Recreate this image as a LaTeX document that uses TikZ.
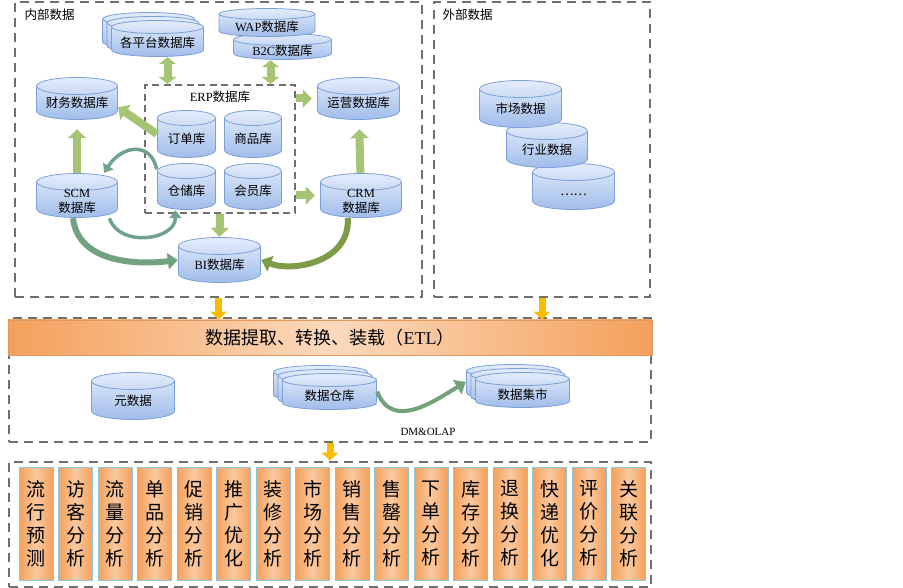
\documentclass[tikz,border=0pt]{standalone}
\usepackage{fontspec}
\setmainfont{Noto Sans CJK SC}
\newfontfamily\lat{Liberation Serif}
\usetikzlibrary{arrows.meta,calc}

\definecolor{dbtop}{HTML}{E4EDFB}
\definecolor{dbbot}{HTML}{A0BCEA}
\definecolor{dbline}{HTML}{7C9FD6}
\definecolor{grnarrow}{HTML}{A6C574}
\definecolor{tealarrow}{HTML}{6FA38E}
\definecolor{olivearrow}{HTML}{7E9B48}
\definecolor{boxgray}{HTML}{707070}
\definecolor{orgdark}{HTML}{F4A05B}
\definecolor{orglight}{HTML}{FAC9A0}
\definecolor{colline}{HTML}{8FC6DA}
\definecolor{yellowarrow}{HTML}{F8BC00}

% text inside a cylinder, set a little below the middle
\newcommand{\dbt}[1]{\smash{\raisebox{-9.4pt}{\begin{tabular}{@{}c@{}}#1\end{tabular}}}}

\begin{document}
\begin{tikzpicture}[x=1pt, y=-1pt,
    font=\fontsize{12.5}{15}\selectfont,
    % db={width}{height}{half height of the end ellipse}
    db/.style n args={3}{rectangle, inner sep=0pt, minimum width=#1, minimum height=#2,
      path picture={
        \path[draw=dbline, line width=0.8pt, top color=dbtop, bottom color=dbbot]
          ([xshift=0.5pt, yshift=-#3pt-0.5pt]path picture bounding box.north west)
          -- ([xshift=0.5pt, yshift=#3pt+0.5pt]path picture bounding box.south west)
          arc[start angle=180, end angle=360, x radius=#1pt/2-0.5pt, y radius=#3pt]
          -- ([xshift=-0.5pt, yshift=-#3pt-0.5pt]path picture bounding box.north east)
          arc[start angle=0, end angle=180, x radius=#1pt/2-0.5pt, y radius=#3pt]
          -- cycle;
        \draw[dbline, line width=0.8pt]
          ([xshift=0.5pt, yshift=-#3pt-0.5pt]path picture bounding box.north west)
          arc[start angle=180, end angle=360, x radius=#1pt/2-0.5pt, y radius=#3pt];
      }},
    outerbox/.style={draw=boxgray, line width=2.8pt, dash pattern=on 9pt off 6pt},
    erpbox/.style={draw=boxgray, line width=2pt, dash pattern=on 7pt off 4.5pt},
    garrow/.style={draw=grnarrow, line width=8pt, -{Triangle[length=9pt,width=18pt]}},
    dgarrow/.style={draw=grnarrow, line width=8pt, {Triangle[length=7pt,width=17pt]}-{Triangle[length=7pt,width=17pt]}},
    tarrow/.style={draw=tealarrow, line width=3.5pt, -{Triangle[length=8pt,width=12pt]}},
    bigarrow/.style={draw=#1, line width=6pt, -{Triangle[length=10pt,width=16pt]}},
    yarrow/.style={draw=yellowarrow, line width=7pt, -{Triangle[length=8pt,width=16pt]}},
    colbox/.style={rectangle, draw=colline, line width=1pt, left color=orgdark, right color=orgdark,
      middle color=orglight, minimum width=34, minimum height=113, inner sep=0pt, align=center,
      font=\fontsize{19}{23}\selectfont},
    etlbar/.style={rectangle, draw=orgdark!80!gray, line width=0.6pt, left color=orgdark, right color=orgdark,
      middle color=orglight!70!white, minimum width=644, minimum height=35, font=\fontsize{18}{20}\selectfont}
  ]
    \useasboundingbox (0,0) rectangle (903,588);

    % 内部数据 / 外部数据
    \node[outerbox, minimum width=407, minimum height=295] (inner) at (218.5,149.5) {};
    \node[anchor=west] (innerlabel) at (21,15) {内部数据};
    \node[outerbox, minimum width=216, minimum height=295] (outer) at (542,149.5) {};
    \node[anchor=west] (outerlabel) at (439,15) {外部数据};

    % ERP
    \node[erpbox, minimum width=150, minimum height=128] (erp) at (220,149) {};
    \node (erplabel) at (220,97) {{\lat ERP}数据库};
    \node[db={59}{48}{7.5}] (order) at (186.5,134) {\dbt{订单库}};
    \node[db={58}{48}{7.5}] (goods) at (253,134) {\dbt{商品库}};
    \node[db={59}{47}{7.5}] (store) at (186.5,186.5) {\dbt{仓储库}};
    \node[db={58}{47}{7.5}] (member) at (253,186.5) {\dbt{会员库}};

    % 其他数据库
    \node[db={93}{37}{6.5}] (plat3) at (148.5,30.5) {};
    \node[db={93}{37}{6.5}] (plat2) at (153,34.5) {};
    \node[db={93}{37}{6.5}] (plat) at (157.5,38.5) {\dbt{各平台数据库}};
    \node[db={99}{27}{6}] (b2c) at (282.5,46.5) {\dbt{{\lat B2C}数据库}};
    \node[db={97}{29}{5.5}] (wap) at (267,22.5) {\dbt{{\lat WAP}数据库}};
    \node[db={82}{43}{8.5}] (fin) at (77,98.5) {\dbt{财务数据库}};
    \node[db={83}{43}{8.5}] (yun) at (358.5,98.5) {\dbt{运营数据库}};
    \node[db={82}{45}{8.5}] (scm) at (77,195.5) {\dbt{{\lat SCM}\\数据库}};
    \node[db={82}{45}{8.5}] (crm) at (361,195.5) {\dbt{{\lat CRM}\\数据库}};
    \node[db={83}{46}{8.5}] (bi) at (219.5,260) {\dbt{{\lat BI}数据库}};

    % 外部
    \node[db={83}{47}{8.5}] (more) at (573.5,186.5) {\dbt{……}};
    \node[db={82}{46}{8.5}] (industry) at (547,145) {\dbt{行业数据}};
    \node[db={83}{48}{8.5}] (market) at (520.5,104) {\dbt{市场数据}};

    % 箭头
    \draw[dgarrow] ([xshift=10pt]plat.south) -- ([xshift=10pt]plat.south |- erp.north);
    \draw[dgarrow] ([xshift=-12pt]b2c.south) -- ([xshift=-12pt]b2c.south |- erp.north);
    \draw[garrow] (order.west) -- (fin.-12);
    \draw[garrow, shorten >=9pt] (scm) -- (fin);
    \draw[garrow, shorten >=9pt] (crm) -- (yun);
    \draw[garrow, shorten >=5pt] (erp.east |- yun.west) -- (yun.west);
    \draw[garrow, shorten >=5pt] (erp.east |- crm.west) -- (crm.west);
    \draw[garrow] (erp.south) -- (bi.north);
    \draw[tarrow] (store.150) .. controls +(-6,-28) and +(18,-28) .. (scm.40);
    \draw[tarrow] (scm.-35) .. controls +(10,30) and +(0,30) .. (store.-115);
    \draw[bigarrow=tealarrow!80!olivearrow] (scm.-100) .. controls +(5,45) and +(-40,5) .. (bi.west);
    \draw[bigarrow=olivearrow] (crm.-120) .. controls +(2,45) and +(30,12) .. (bi.east);

    % ETL
    \node[outerbox, minimum width=642, minimum height=124] (lower) at (330,380) {};
    \node[etlbar] (etl) at (330,337.5) {数据提取、转换、装载（{\lat ETL}）};
    \draw[yarrow] (inner.south) -- (inner.south |- etl.north);
    \draw[yarrow] (outer.south) -- (outer.south |- etl.north);

    \node[db={84}{48}{8.5}] (meta) at (133,396) {\dbt{元数据}};
    \node[db={95}{37}{6.5}] (dw3) at (320.5,383.5) {};
    \node[db={95}{37}{6.5}] (dw2) at (325,387.5) {};
    \node[db={95}{37}{6.5}] (dw) at (329.5,391.5) {\dbt{数据仓库}};
    \node[db={95}{36}{6.5}] (dm3) at (513.5,382) {};
    \node[db={95}{36}{6.5}] (dm2) at (518,386) {};
    \node[db={95}{36}{6.5}] (dm) at (522.5,390) {\dbt{数据集市}};
    \draw[bigarrow=tealarrow!70!olivearrow, line width=4pt] (dw.east) .. controls +(15,40) and +(-30,18) .. (dm3.west);
    \node[font=\lat\fontsize{11}{13}\selectfont] (dmolap) at (428,432) {DM\&OLAP};

    % 分析
    \node[outerbox, minimum width=642, minimum height=125] (apps) at (330,524.5) {};
    \draw[yarrow] (lower.south) -- (apps.north);
    \foreach \txt [count=\i from 0] in {流\\行\\预\\测, 访\\客\\分\\析, 流\\量\\分\\析, 单\\品\\分\\析,
        促\\销\\分\\析, 推\\广\\优\\化, 装\\修\\分\\析, 市\\场\\分\\析, 销\\售\\分\\析, 售\\罄\\分\\析,
        下\\单\\分\\析, 库\\存\\分\\析, 退\\换\\分\\析, 快\\递\\优\\化, 评\\价\\分\\析, 关\\联\\分\\析}
      \node[colbox] (col\i) at ({36+39.5*\i},523.5) {\txt};
\end{tikzpicture}
\end{document}
